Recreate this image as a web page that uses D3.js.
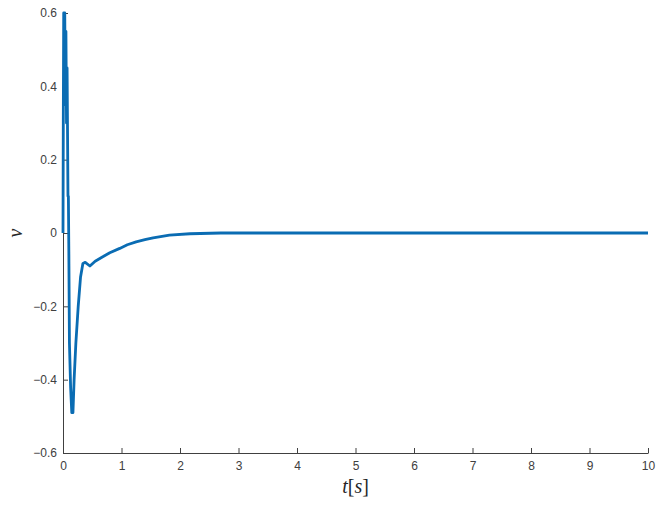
<!DOCTYPE html>
<html>
<head>
<meta charset="utf-8">
<script src="https://cdn.jsdelivr.net/npm/d3@7"></script>
<style>
  body { margin: 0; background: #fff; }
  svg { display: block; font-family: "Liberation Sans", Arial, sans-serif; }
  .tick text { fill: #404040; font-size: 12px; }
  .domain, .tick line { stroke: #404040; }
</style>
</head>
<body>
<div id="chart"></div>
<script>
// time samples [s] and response v
const times = [0, 0.005, 0.012, 0.02, 0.03, 0.04, 0.05, 0.06, 0.07, 0.085, 0.092, 0.1, 0.11,
  0.13, 0.15, 0.17, 0.19, 0.22, 0.26, 0.3, 0.34, 0.38, 0.46, 0.55, 0.68, 0.8, 0.97, 1.1,
  1.25, 1.4, 1.54, 1.82, 2.17, 2.7, 10];
const values = [0, 0.3, 0.6, 0.45, 0.6, 0.35, 0.55, 0.3, 0.45, 0.1, 0.1, -0.05, -0.3,
  -0.42, -0.49, -0.49, -0.4, -0.3, -0.2, -0.12, -0.083, -0.08, -0.09, -0.077, -0.065, -0.054, -0.042, -0.032,
  -0.024, -0.018, -0.013, -0.006, -0.002, 0, 0];
const xTicks = [0, 1, 2, 3, 4, 5, 6, 7, 8, 9, 10];
const yTicks = [-0.6, -0.4, -0.2, 0, 0.2, 0.4, 0.6];

const W = 657, H = 506;
const margin = { top: 13, right: 9, bottom: 53, left: 63 };
const width = W - margin.left - margin.right;
const height = H - margin.top - margin.bottom;

const svg = d3.select('#chart').append('svg')
  .attr('width', W).attr('height', H);
const g = svg.append('g')
  .attr('transform', `translate(${margin.left},${margin.top})`);

const x = d3.scaleLinear().domain([0, 10]).range([0, width]);
const y = d3.scaleLinear().domain([-0.6, 0.6]).range([height, 0]);

g.append('g')
  .attr('transform', `translate(0,${height})`)
  .call(d3.axisBottom(x).tickValues(xTicks).tickFormat(d3.format('d'))
    .tickSizeInner(-5).tickSizeOuter(0).tickPadding(8));

g.append('g')
  .call(d3.axisLeft(y).tickValues(yTicks).tickFormat(d => d === 0 ? '0' : d3.format('.1f')(d))
    .tickSizeInner(-5).tickSizeOuter(0).tickPadding(6));

const pts = times.map((t, i) => [t, values[i]]);
g.append('path')
  .datum(pts)
  .attr('fill', 'none')
  .attr('stroke', '#0a6cb3')
  .attr('stroke-width', 2.8)
  .attr('stroke-linejoin', 'round')
  .attr('d', d3.line().x(d => x(d[0])).y(d => y(d[1])));

svg.append('text')
  .attr('x', margin.left + width / 2)
  .attr('y', 493)
  .attr('text-anchor', 'middle')
  .attr('font-family', '"Liberation Serif", "DejaVu Serif", serif')
  .attr('font-size', 20)
  .attr('fill', '#262626')
  .html('<tspan font-style="italic">t</tspan>[<tspan font-style="italic">s</tspan>]');

svg.append('text')
  .attr('transform', `translate(22,${margin.top + height / 2}) rotate(-90)`)
  .attr('text-anchor', 'middle')
  .attr('font-family', '"Liberation Serif", "DejaVu Serif", serif')
  .attr('font-style', 'italic')
  .attr('font-size', 20)
  .attr('fill', '#262626')
  .text('v');
</script>
</body>
</html>
